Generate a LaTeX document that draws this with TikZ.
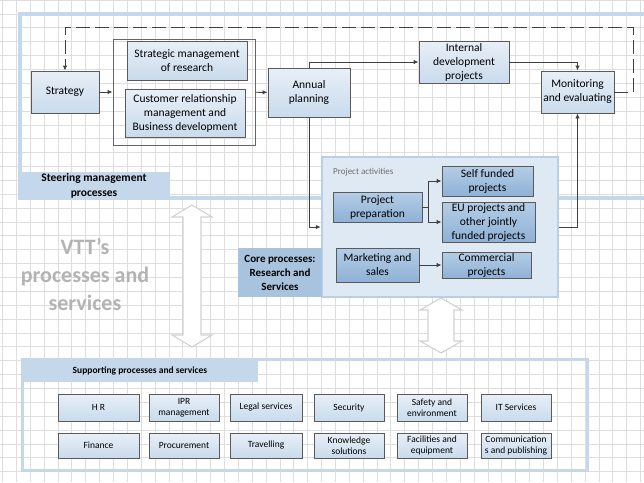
\documentclass[tikz,border=0pt]{standalone}
\usepackage{fontspec}
\setmainfont{Carlito}
\usepackage{xcolor}
\usetikzlibrary{arrows.meta,positioning,calc}

\definecolor{gridgray}{HTML}{DEDEDE}
\definecolor{frameblue}{HTML}{C5D8EB}
\definecolor{coretag}{HTML}{A8C3DE}
\definecolor{corefill}{HTML}{DFE9F3}
\definecolor{coreline}{HTML}{B7CFE7}
\definecolor{boxtop}{HTML}{E8EFF7}
\definecolor{boxbot}{HTML}{C9DBEC}
\definecolor{darktop}{HTML}{B4CDE6}
\definecolor{darkbot}{HTML}{8FB1D5}
\definecolor{boxline}{HTML}{5A5A5A}
\definecolor{linegray}{HTML}{404040}
\definecolor{bigtext}{HTML}{B3B3B3}

\tikzset{
  sz/.style 2 args={minimum width=#1pt, minimum height=#2pt},
  lightbox/.style={draw=boxline, line width=0.9pt, top color=boxtop, bottom color=boxbot,
    align=center, inner sep=1pt, font=\fontsize{11.5}{14}\selectfont},
  darkbox/.style={lightbox, top color=darktop, bottom color=darkbot},
  suppbox/.style={lightbox, sz={70}{27}, font=\fontsize{9.5}{11}\selectfont},
  tagbox/.style={fill=frameblue, align=center, inner sep=1pt, font=\bfseries\fontsize{11.5}{15}\selectfont},
  link/.style={draw=linegray, line width=0.9pt, -{Latex[length=5pt,width=4.5pt]}},
  plain/.style={draw=linegray, line width=0.9pt},
  frameline/.style={draw=frameblue, line width=3.5pt},
  bigarrow/.style={draw=gray!35, fill=white, line width=1.1pt},
}

\begin{document}
\begin{tikzpicture}[x=1pt, y=-1pt]
  \useasboundingbox (0,0) rectangle (644,482);

  % Background grid
  \foreach \i in {0,...,46}
    \draw[gridgray, line width=0.8pt] ({2.5+\i*13.87},0) -- ({2.5+\i*13.87},482);
  \foreach \j in {0,...,34}
    \draw[gridgray, line width=0.8pt] (0,{0.1+\j*13.87}) -- (644,{0.1+\j*13.87});

  % Frames
  \draw[frameline] (644,14) -- (20,14) -- (20,198) -- (644,198);
  \draw[frameblue, line width=3pt] (22,359) rectangle (587,470);

  % Big double arrows
  \draw[bigarrow] (192,205) -- (212,217) -- (201,217) -- (201,335) -- (212,335) -- (192,347)
    -- (172,335) -- (183,335) -- (183,217) -- (172,217) -- cycle;
  \draw[bigarrow] (441,298) -- (462,310) -- (454,310) -- (454,341) -- (462,341) -- (441,353)
    -- (420,341) -- (428,341) -- (428,310) -- (420,310) -- cycle;

  % Steering management
  \node[tagbox, sz={152}{25}] (steertag) at (94,185.5) {Steering management\\processes};
  \node[lightbox, sz={68}{42}] (strategy) at (65,92) {Strategy};
  \node[draw=gray!80!black, line width=0.9pt, sz={142}{106}] (group) at (184,92) {};
  \node[lightbox, sz={120}{39}] (stratres) at (187,60.5) {Strategic management\\of research};
  \node[lightbox, sz={120}{48}] (crm) at (185,113) {Customer relationship\\management and\\Business development};
  \node[lightbox, sz={82}{49}] (annual) at (309,92.5) {Annual\\planning};
  \node[lightbox, sz={90}{42}] (internal) at (464,62) {Internal\\development\\projects};
  \node[lightbox, sz={73}{42}] (monitor) at (577.5,92) {Monitoring\\and evaluating};

  % Core processes
  \node[fill=corefill, draw=coreline, line width=2.5pt, sz={236}{140}] (core) at (440,227) {};
  \node[tagbox, fill=coretag, sz={84}{49}, font=\bfseries\fontsize{11}{14}\selectfont] (coretag) at (280,272.5)
    {Core processes:\\Research and\\Services};
  \node[anchor=west, text=gray!85!black, inner sep=0pt, font=\fontsize{9}{10}\selectfont] (activities) at (333,172) {Project activities};
  \node[darkbox, sz={89}{30}] (prep) at (377.5,207) {Project\\preparation};
  \node[darkbox, sz={91}{30}] (selffund) at (487.5,181) {Self funded\\projects};
  \node[darkbox, sz={93}{40}] (eu) at (488.5,222) {EU projects and\\other jointly\\funded projects};
  \node[darkbox, sz={83}{34}] (marketing) at (377.5,265) {Marketing and\\sales};
  \node[darkbox, sz={89}{26}] (commercial) at (486.5,265) {Commercial\\projects};

  % VTT label
  \node[align=center, text=bigtext, font=\bfseries\fontsize{22}{28}\selectfont] (vtt) at (85,275)
    {VTT’s\\processes and\\services};

  % Supporting processes
  \node[tagbox, sz={236}{23}, font=\bfseries\fontsize{9.5}{11}\selectfont] (supptag) at (140,370.5)
    {Supporting processes and services};
  \node[suppbox, minimum width=81pt] (hr) at (98.5,407.5) {H R};
  \node[suppbox] (ipr) at (184,407.5) {IPR\\management};
  \node[suppbox, minimum width=72pt] (legal) at (266,407.5) {Legal services};
  \node[suppbox] (security) at (349,407.5) {Security};
  \node[suppbox] (safety) at (432,407.5) {Safety and\\environment};
  \node[suppbox] (it) at (516,407.5) {IT Services};
  \node[suppbox, minimum width=81pt, minimum height=25pt] (finance) at (98.5,445.5) {Finance};
  \node[suppbox, minimum height=25pt] (procure) at (184,445.5) {Procurement};
  \node[suppbox, minimum width=72pt, minimum height=25pt] (travel) at (266,445.5) {Travelling};
  \node[suppbox, minimum height=25pt] (knowledge) at (349,445.5) {Knowledge\\solutions};
  \node[suppbox, minimum height=25pt] (facilities) at (432,445.5) {Facilities and\\equipment};
  \node[suppbox, minimum height=25pt] (comms) at (516,445.5) {Communication\\s and publishing};

  % Connections
  \draw[link] (strategy) -- (group);
  \draw[link] (group) -- (annual);
  \draw[link] (annual.north) |- (internal.west);
  \draw[link] (internal.east) -| (monitor.north);
  \draw[link] (annual.south) |- (core.west);
  \draw[link] (core.east) -| (monitor.south);
  \coordinate (split) at ($(prep.east)+(6,0)$);
  \draw[plain] (prep.east) -- (split);
  \draw[link] (split) |- (selffund.west);
  \draw[link] (split) |- (eu.west);
  \draw[link] (marketing) -- (commercial);

  % Feedback loop
  \coordinate (loopR) at (633,92);
  \coordinate (loopL) at (65,27);
  \draw[link, dash pattern=on 14pt off 5pt] (monitor.east) -- (loopR) |- (loopL) -- (strategy.north);
\end{tikzpicture}
\end{document}
